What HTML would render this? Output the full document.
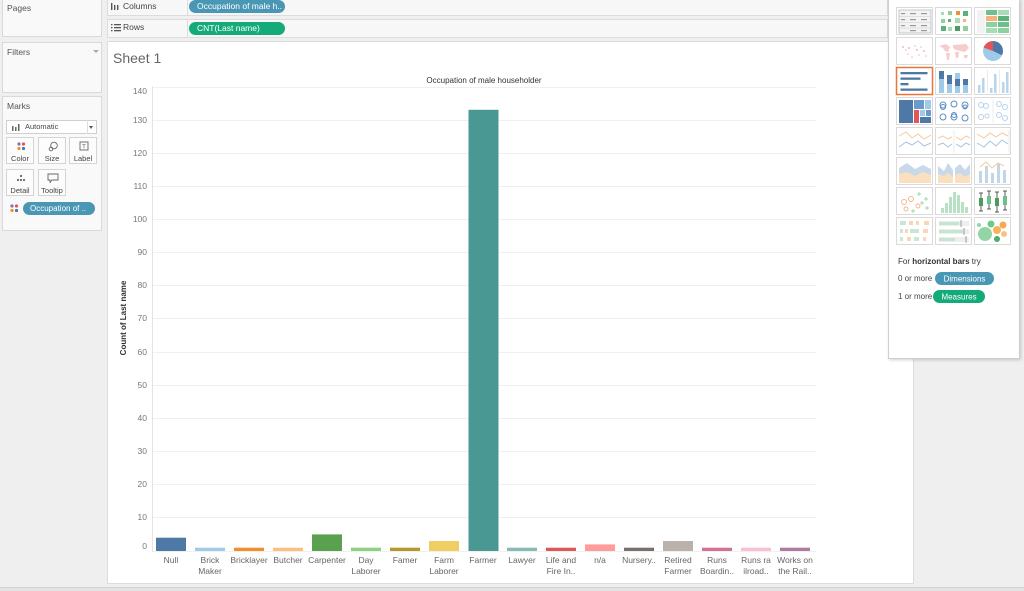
<!DOCTYPE html>
<html><head><meta charset="utf-8">
<style>
html,body{margin:0;padding:0;}
body{width:1024px;height:590px;overflow:hidden;background:#efefef;font-family:"Liberation Sans",sans-serif;position:relative;}
.box{position:absolute;background:#f9f9f9;border:1px solid #d9d9d9;box-sizing:border-box;}
.lbl{position:absolute;font-size:8.5px;color:#555;}
.shelf{position:absolute;left:107px;width:781px;background:#f7f7f7;border:1px solid #dcdcdc;border-top:none;box-sizing:border-box;}
.pill{position:absolute;border-radius:7px;color:#fff;font-size:8.5px;line-height:13px;padding-left:8px;box-sizing:border-box;white-space:nowrap;overflow:hidden;}
.btn{position:absolute;width:28px;height:27px;border:1px solid #d4d4d4;background:#fcfcfc;box-sizing:border-box;font-size:7.5px;color:#444;text-align:center;}
.btn span{position:absolute;left:0;right:0;top:16px;}
</style></head><body>

<!-- left panels -->
<div class="box" style="left:2px;top:-1px;width:100px;height:38px;"></div>
<div class="lbl" style="left:7px;top:3px;">Pages</div>
<div class="box" style="left:2px;top:42px;width:100px;height:51px;"></div>
<div class="lbl" style="left:7px;top:47px;">Filters</div>
<div style="position:absolute;left:93px;top:50px;width:0;height:0;border-left:3px solid transparent;border-right:3px solid transparent;border-top:3px solid #aaa;"></div>
<div class="box" style="left:2px;top:96px;width:100px;height:135px;"></div>
<div class="lbl" style="left:7px;top:101px;">Marks</div>
<div style="position:absolute;left:6px;top:120px;width:91px;height:14px;background:#fff;border:1px solid #cfcfcf;box-sizing:border-box;"></div>
<svg style="position:absolute;left:12px;top:123px" width="10" height="8"><rect x="0" y="3" width="1.5" height="5" fill="#666"/><rect x="3" y="4" width="1.5" height="4" fill="#666"/><rect x="6" y="1" width="1.5" height="7" fill="#666"/></svg>
<div class="lbl" style="left:25px;top:122px;font-size:7.5px;color:#444;">Automatic</div>
<div style="position:absolute;left:87px;top:120px;width:1px;height:14px;background:#ddd;"></div>
<div style="position:absolute;left:89px;top:126px;width:0;height:0;border-left:2.5px solid transparent;border-right:2.5px solid transparent;border-top:3px solid #555;"></div>

<div class="btn" style="left:6px;top:137px;"><svg style="position:absolute;left:10px;top:4px" width="9" height="9"><circle cx="2" cy="2" r="1.6" fill="#8e6fae"/><circle cx="6.5" cy="2" r="1.6" fill="#e15759"/><circle cx="2" cy="6.5" r="1.6" fill="#f28e2b"/><circle cx="6.5" cy="6.5" r="1.6" fill="#4e79a7"/></svg><span>Color</span></div>
<div class="btn" style="left:38px;top:137px;"><svg style="position:absolute;left:9px;top:3px" width="11" height="11"><circle cx="6" cy="4.5" r="3.3" fill="none" stroke="#666" stroke-width="0.9"/><circle cx="3" cy="8" r="1.8" fill="none" stroke="#666" stroke-width="0.9"/></svg><span>Size</span></div>
<div class="btn" style="left:69px;top:137px;"><svg style="position:absolute;left:9px;top:3px" width="10" height="10"><rect x="1" y="1" width="8" height="8" fill="none" stroke="#666" stroke-width="0.9"/><text x="5" y="7.5" font-size="6" text-anchor="middle" fill="#666" font-family="Liberation Sans">T</text></svg><span>Label</span></div>
<div class="btn" style="left:6px;top:169px;"><svg style="position:absolute;left:9px;top:4px" width="10" height="9"><circle cx="5" cy="2" r="1.1" fill="#666"/><circle cx="2" cy="6" r="1.1" fill="#666"/><circle cx="5" cy="6" r="1.1" fill="#666"/><circle cx="8" cy="6" r="1.1" fill="#666"/></svg><span>Detail</span></div>
<div class="btn" style="left:38px;top:169px;"><svg style="position:absolute;left:8px;top:3px" width="12" height="10"><path d="M1 1 H11 V7 H5 L3 9.5 V7 H1 Z" fill="none" stroke="#666" stroke-width="0.9"/></svg><span>Tooltip</span></div>
<svg style="position:absolute;left:10px;top:204px" width="9" height="9"><circle cx="2" cy="2" r="1.6" fill="#8e6fae"/><circle cx="6.5" cy="2" r="1.6" fill="#e15759"/><circle cx="2" cy="6.5" r="1.6" fill="#f28e2b"/><circle cx="6.5" cy="6.5" r="1.6" fill="#4e79a7"/></svg>
<div class="pill" style="left:23px;top:202px;width:72px;height:13px;background:#4a96b5;font-size:8px;padding-left:7px;">Occupation of ..</div>

<!-- shelves -->
<div class="shelf" style="top:0;height:16px;"></div>
<div class="shelf" style="top:19px;height:19px;border-top:1px solid #dcdcdc;"></div>
<div style="position:absolute;left:187px;top:0;width:1px;height:15px;background:#dcdcdc;"></div>
<div style="position:absolute;left:187px;top:20px;width:1px;height:17px;background:#dcdcdc;"></div>
<svg style="position:absolute;left:111px;top:3px" width="10" height="8"><rect x="0" y="0" width="1.4" height="7" fill="#555"/><rect x="3" y="2" width="1.4" height="5" fill="#555"/><rect x="6" y="2" width="1.4" height="5" fill="#555"/></svg>
<div class="lbl" style="left:123px;top:1px;color:#444;">Columns</div>
<svg style="position:absolute;left:111px;top:24px" width="10" height="8"><rect x="0" y="0" width="1.5" height="1.3" fill="#555"/><rect x="3" y="0" width="7" height="1.3" fill="#555"/><rect x="0" y="3" width="1.5" height="1.3" fill="#555"/><rect x="3" y="3" width="7" height="1.3" fill="#555"/><rect x="0" y="6" width="1.5" height="1.3" fill="#555"/><rect x="3" y="6" width="7" height="1.3" fill="#555"/></svg>
<div class="lbl" style="left:123px;top:22px;color:#444;">Rows</div>
<div class="pill" style="left:189px;top:0px;width:96px;height:13px;background:#4a96b5;">Occupation of male h..</div>
<div class="pill" style="left:189px;top:22px;width:96px;height:13px;background:#14aa79;">CNT(Last name)</div>

<!-- sheet -->
<div style="position:absolute;left:107px;top:41px;width:807px;height:543px;background:#fff;border:1px solid #dcdcdc;box-sizing:border-box;"></div>
<div style="position:absolute;left:113px;top:50px;font-size:14px;color:#666;">Sheet 1</div>
<div style="position:absolute;left:0;top:587px;width:1024px;height:3px;background:#e4e4e4;border-top:1px solid #d0d0d0;"></div>

<svg style="position:absolute;left:0;top:0" width="1024" height="590" font-family="Liberation Sans, sans-serif">
<text x="484" y="83" font-size="8px" text-anchor="middle" fill="#333">Occupation of male householder</text>
<text transform="translate(126,318) rotate(-90)" font-size="8px" text-anchor="middle" fill="#333" font-weight="bold">Count of Last name</text>
<g stroke="#f0f0f0" stroke-width="1">
<line x1="152" x2="816" y1="87.5" y2="87.5"/>
<line x1="152" x2="816" y1="120.5" y2="120.5"/>
<line x1="152" x2="816" y1="153.5" y2="153.5"/>
<line x1="152" x2="816" y1="186.5" y2="186.5"/>
<line x1="152" x2="816" y1="219.5" y2="219.5"/>
<line x1="152" x2="816" y1="252.5" y2="252.5"/>
<line x1="152" x2="816" y1="285.5" y2="285.5"/>
<line x1="152" x2="816" y1="318.5" y2="318.5"/>
<line x1="152" x2="816" y1="352.5" y2="352.5"/>
<line x1="152" x2="816" y1="385.5" y2="385.5"/>
<line x1="152" x2="816" y1="418.5" y2="418.5"/>
<line x1="152" x2="816" y1="451.5" y2="451.5"/>
<line x1="152" x2="816" y1="484.5" y2="484.5"/>
<line x1="152" x2="816" y1="517.5" y2="517.5"/>
<line x1="152" x2="816" y1="551.5" y2="551.5"/>
</g>
<line x1="152.5" x2="152.5" y1="86" y2="552" stroke="#e4e4e4"/>
<g font-size="8.5px" fill="#777" text-anchor="end">
<text x="147" y="94">140</text>
<text x="147" y="123">130</text>
<text x="147" y="156">120</text>
<text x="147" y="189">110</text>
<text x="147" y="222">100</text>
<text x="147" y="255">90</text>
<text x="147" y="288">80</text>
<text x="147" y="321">70</text>
<text x="147" y="355">60</text>
<text x="147" y="388">50</text>
<text x="147" y="421">40</text>
<text x="147" y="454">30</text>
<text x="147" y="487">20</text>
<text x="147" y="520">10</text>
<text x="147" y="549">0</text>
</g>
<g>
<rect x="156" y="537.7" width="30" height="13.3" fill="#4e79a7"/>
<rect x="195" y="547.7" width="30" height="3.3" fill="#a0cbe8"/>
<rect x="234" y="547.7" width="30" height="3.3" fill="#f28e2b"/>
<rect x="273" y="547.7" width="30" height="3.3" fill="#ffbe7d"/>
<rect x="312" y="534.4" width="30" height="16.6" fill="#59a14f"/>
<rect x="351" y="547.7" width="30" height="3.3" fill="#8cd17d"/>
<rect x="390" y="547.7" width="30" height="3.3" fill="#b6992d"/>
<rect x="429" y="541" width="30" height="10" fill="#f1ce63"/>
<rect x="468.5" y="109.8" width="30" height="441.2" fill="#499894"/>
<rect x="507" y="547.7" width="30" height="3.3" fill="#86bcb6"/>
<rect x="546" y="547.7" width="30" height="3.3" fill="#e15759"/>
<rect x="585" y="544.4" width="30" height="6.6" fill="#ff9d9a"/>
<rect x="624" y="547.7" width="30" height="3.3" fill="#79706e"/>
<rect x="663" y="541" width="30" height="10" fill="#bab0ac"/>
<rect x="702" y="547.7" width="30" height="3.3" fill="#d37295"/>
<rect x="741" y="547.7" width="30" height="3.3" fill="#fabfd2"/>
<rect x="780" y="547.7" width="30" height="3.3" fill="#b07aa1"/>
</g>
<g font-size="8.5px" fill="#666" text-anchor="middle">
<text x="171" y="563">Null</text>
<text x="210" y="563">Brick</text><text x="210" y="574">Maker</text>
<text x="249" y="563">Bricklayer</text>
<text x="288" y="563">Butcher</text>
<text x="327" y="563">Carpenter</text>
<text x="366" y="563">Day</text><text x="366" y="574">Laborer</text>
<text x="405" y="563">Famer</text>
<text x="444" y="563">Farm</text><text x="444" y="574">Laborer</text>
<text x="483" y="563">Farmer</text>
<text x="522" y="563">Lawyer</text>
<text x="561" y="563">Life and</text><text x="561" y="574">Fire In..</text>
<text x="600" y="563">n/a</text>
<text x="639" y="563">Nursery..</text>
<text x="678" y="563">Retired</text><text x="678" y="574">Farmer</text>
<text x="717" y="563">Runs</text><text x="717" y="574">Boardin..</text>
<text x="756" y="563">Runs ra</text><text x="756" y="574">ilroad..</text>
<text x="795" y="563">Works on</text><text x="795" y="574">the Rail..</text>
</g>
</svg>

<!-- Show Me panel -->
<div style="position:absolute;left:888px;top:-1px;width:132px;height:360px;background:#fff;border:1px solid #cfcfcf;box-sizing:border-box;box-shadow:1px 1px 3px rgba(0,0,0,0.18);"></div>
<svg style="position:absolute;left:0;top:0" width="1024" height="590" font-family="Liberation Sans, sans-serif">
<g fill="#fff" stroke="#dadada" stroke-width="1">
<rect x="896.5" y="7.5" width="36" height="27"/><rect x="935.5" y="7.5" width="36" height="27"/><rect x="974.5" y="7.5" width="36" height="27"/>
<rect x="896.5" y="37.5" width="36" height="27"/><rect x="935.5" y="37.5" width="36" height="27"/><rect x="974.5" y="37.5" width="36" height="27"/>
<rect x="935.5" y="67.5" width="36" height="27"/><rect x="974.5" y="67.5" width="36" height="27"/>
<rect x="896.5" y="97.5" width="36" height="27"/><rect x="935.5" y="97.5" width="36" height="27"/><rect x="974.5" y="97.5" width="36" height="27"/>
<rect x="896.5" y="127.5" width="36" height="27"/><rect x="935.5" y="127.5" width="36" height="27"/><rect x="974.5" y="127.5" width="36" height="27"/>
<rect x="896.5" y="157.5" width="36" height="27"/><rect x="935.5" y="157.5" width="36" height="27"/><rect x="974.5" y="157.5" width="36" height="27"/>
<rect x="896.5" y="187.5" width="36" height="27"/><rect x="935.5" y="187.5" width="36" height="27"/><rect x="974.5" y="187.5" width="36" height="27"/>
<rect x="896.5" y="217.5" width="36" height="27"/><rect x="935.5" y="217.5" width="36" height="27"/><rect x="974.5" y="217.5" width="36" height="27"/>
</g>
<rect x="896.5" y="67.5" width="36" height="27" fill="#fff" stroke="#e8763a" stroke-width="1.5"/>
<!-- text table -->
<g transform="translate(897,8)">
<rect x="2" y="2" width="32" height="23" fill="#f3f3f3" stroke="#bbb" stroke-width="0.8"/>
<g fill="#999"><rect x="4" y="5" width="4" height="1.2"/><rect x="13" y="5" width="6" height="1.2"/><rect x="24" y="5" width="6" height="1.2"/>
<rect x="4" y="11" width="4" height="1.2"/><rect x="13" y="11" width="6" height="1.2"/><rect x="24" y="11" width="6" height="1.2"/>
<rect x="4" y="17" width="4" height="1.2"/><rect x="13" y="17" width="6" height="1.2"/><rect x="24" y="17" width="6" height="1.2"/>
<rect x="13" y="22" width="6" height="1.2"/><rect x="24" y="22" width="6" height="1.2"/></g>
<line x1="2" x2="34" y1="8.5" y2="8.5" stroke="#ccc" stroke-width="0.5"/><line x1="2" x2="34" y1="14.5" y2="14.5" stroke="#ccc" stroke-width="0.5"/><line x1="2" x2="34" y1="20" y2="20" stroke="#ccc" stroke-width="0.5"/>
</g>
<!-- heat map -->
<g transform="translate(936,8)">
<rect x="5" y="4" width="3" height="3" fill="#a8dcb5"/><rect x="12" y="3" width="4" height="4" fill="#8fd0a0"/><rect x="20" y="3" width="4" height="4" fill="#f28e2b"/><rect x="27" y="3" width="5" height="5" fill="#5cb27a"/>
<rect x="5" y="11" width="4" height="4" fill="#8fd0a0"/><rect x="12" y="11" width="3" height="3" fill="#5cb27a"/><rect x="19" y="10" width="5" height="5" fill="#a8dcb5"/><rect x="27" y="11" width="3" height="3" fill="#f5b27a"/>
<rect x="5" y="18" width="5" height="5" fill="#5cb27a"/><rect x="12" y="19" width="4" height="4" fill="#a8dcb5"/><rect x="19" y="18" width="5" height="5" fill="#4f9a5e"/><rect x="27" y="18" width="5" height="5" fill="#8fd0a0"/>
</g>
<!-- highlight table -->
<g transform="translate(975,8)">
<rect x="2" y="2" width="8" height="23" fill="#f2f2f2"/>
<rect x="11" y="2" width="11" height="5" fill="#6fbf8a"/><rect x="23" y="2" width="11" height="5" fill="#a8dcb5"/>
<rect x="11" y="8" width="11" height="5" fill="#f5b27a"/><rect x="23" y="8" width="11" height="5" fill="#5cb27a"/>
<rect x="11" y="14" width="11" height="5" fill="#8fd0a0"/><rect x="23" y="14" width="11" height="5" fill="#6fbf8a"/>
<rect x="11" y="20" width="11" height="5" fill="#a8dcb5"/><rect x="23" y="20" width="11" height="5" fill="#8fd0a0"/>
</g>
<!-- symbol map -->
<g transform="translate(897,38)" fill="#f2b8b8">
<circle cx="6" cy="9" r="1"/><circle cx="9" cy="12" r="0.8"/><circle cx="12" cy="10" r="1"/><circle cx="11" cy="16" r="0.8"/><circle cx="18" cy="8" r="0.8"/><circle cx="20" cy="12" r="1"/><circle cx="24" cy="9" r="0.8"/><circle cx="27" cy="13" r="1"/><circle cx="22" cy="17" r="0.8"/><circle cx="29" cy="18" r="0.8"/><circle cx="15" cy="19" r="0.8"/>
</g>
<!-- filled map -->
<g transform="translate(936,38)" fill="#f6cccc">
<path d="M3 8 L10 6 L14 9 L12 14 L9 13 L7 10 Z"/><path d="M10 15 L14 15 L13 22 L11 22 Z"/><path d="M17 7 L30 6 L33 10 L29 14 L24 13 L20 12 L17 10 Z"/><path d="M19 14 L23 14 L22 20 L20 20 Z"/><path d="M28 17 L32 17 L31 20 L28 20 Z"/>
</g>
<!-- pie -->
<g transform="translate(993,51)">
<circle r="10" fill="#a0cbe8"/>
<path d="M0 0 L0 -10 A10 10 0 0 1 9 4.3 Z" fill="#4e79a7"/>
<path d="M0 0 L-9.4 -3.4 A10 10 0 0 1 0 -10 Z" fill="#e15759"/>
</g>
<!-- horizontal bars -->
<g transform="translate(897,68)" fill="#4e79a7">
<rect x="3.5" y="4" width="27" height="2.3"/><rect x="3.5" y="9.5" width="20" height="2.3"/><rect x="3.5" y="15" width="8" height="2.3"/><rect x="3.5" y="20.5" width="27" height="2.3"/>
</g>
<!-- stacked bars -->
<g transform="translate(936,68)">
<rect x="3" y="3" width="5" height="22" fill="#a0cbe8"/><rect x="3" y="3" width="5" height="8" fill="#4e79a7"/>
<rect x="11" y="7" width="5" height="18" fill="#a0cbe8"/><rect x="11" y="7" width="5" height="9" fill="#4e79a7"/>
<rect x="19" y="5" width="5" height="20" fill="#a0cbe8"/><rect x="19" y="11" width="5" height="7" fill="#4e79a7"/>
<rect x="27" y="11" width="5" height="14" fill="#a0cbe8"/><rect x="27" y="11" width="5" height="6" fill="#4e79a7"/>
</g>
<!-- side-by-side bars -->
<g transform="translate(975,68)">
<line x1="12.5" x2="12.5" y1="2" y2="25" stroke="#ddd" stroke-width="0.6"/><line x1="24.5" x2="24.5" y1="2" y2="25" stroke="#ddd" stroke-width="0.6"/>
<g fill="#b9d5ec"><rect x="3" y="17" width="2.5" height="8"/><rect x="7" y="10" width="2.5" height="15"/><rect x="15" y="20" width="2.5" height="5"/><rect x="19" y="6" width="2.5" height="19"/><rect x="27" y="14" width="2.5" height="11"/><rect x="31" y="4" width="2.5" height="21"/></g>
</g>
<!-- treemap -->
<g transform="translate(897,98)">
<rect x="2" y="2" width="14" height="23" fill="#4e79a7"/><rect x="17" y="2" width="10" height="9" fill="#6b9bc9"/><rect x="28" y="2" width="6" height="9" fill="#a0cbe8"/>
<rect x="17" y="12" width="5" height="13" fill="#e15759"/><rect x="23" y="12" width="5" height="6" fill="#a0cbe8"/><rect x="29" y="12" width="5" height="6" fill="#6b9bc9"/><rect x="23" y="19" width="11" height="6" fill="#4e79a7"/>
</g>
<!-- circle views -->
<g transform="translate(936,98)" fill="none" stroke="#5b8fc0" stroke-width="1">
<circle cx="7" cy="7" r="3"/><circle cx="7" cy="9" r="2.5"/><circle cx="18" cy="6" r="3"/><circle cx="29" cy="7" r="3"/><circle cx="29" cy="9" r="2"/>
<circle cx="7" cy="19" r="3"/><circle cx="18" cy="17" r="2.5"/><circle cx="18" cy="19" r="3"/><circle cx="29" cy="20" r="3"/>
</g>
<g transform="translate(975,98)" fill="none" stroke="#b8d1e8" stroke-width="1">
<circle cx="6" cy="7" r="2.5"/><circle cx="11" cy="8" r="2.5"/><circle cx="6" cy="19" r="2.5"/><circle cx="12" cy="18" r="2"/>
<circle cx="24" cy="6" r="2.5"/><circle cx="30" cy="9" r="2.5"/><circle cx="24" cy="17" r="2.5"/><circle cx="30" cy="20" r="2.5"/>
<line x1="18" x2="18" y1="2" y2="25" stroke="#e2e2e2" stroke-width="0.6"/>
</g>
<!-- lines -->
<g transform="translate(897,128)" fill="none" stroke-width="1">
<polyline points="2,8 9,4 15,10 21,6 27,11 34,7" stroke="#f7c99b"/>
<polyline points="2,19 9,14 15,17 21,13 27,18 34,15" stroke="#a8c4de"/>
</g>
<g transform="translate(936,128)" fill="none" stroke-width="1">
<polyline points="2,10 7,8 12,11 16,9" stroke="#f7c99b"/><polyline points="20,9 25,12 30,8 34,10" stroke="#f7c99b"/>
<polyline points="2,17 7,15 12,19 16,16" stroke="#a8c4de"/><polyline points="20,16 25,19 30,15 34,17" stroke="#a8c4de"/>
<line x1="18" x2="18" y1="2" y2="25" stroke="#e2e2e2" stroke-width="0.6"/>
</g>
<g transform="translate(975,128)" fill="none" stroke-width="1">
<polyline points="2,6 9,10 15,5 21,9 27,5 33,8" stroke="#f7c99b"/>
<polyline points="2,15 9,19 15,13 21,18 27,12 33,16" stroke="#a8c4de"/>
<line x1="34" x2="34" y1="2" y2="25" stroke="#ddd" stroke-width="0.6"/>
</g>
<!-- areas -->
<g transform="translate(897,158)">
<polygon points="2,10 10,5 18,11 26,7 34,11 34,25 2,25" fill="#c9d9ea"/>
<polygon points="2,16 10,14 18,18 26,14 34,17 34,25 2,25" fill="#fbe0c0"/>
</g>
<g transform="translate(936,158)">
<polygon points="2,8 8,13 12,5 17,12 17,25 2,25" fill="#c9d9ea"/><polygon points="19,10 24,6 29,12 34,6 34,25 19,25" fill="#c9d9ea"/>
<polygon points="2,16 8,18 12,15 17,19 17,25 2,25" fill="#fbe0c0"/><polygon points="19,17 24,15 29,19 34,16 34,25 19,25" fill="#fbe0c0"/>
</g>
<g transform="translate(975,158)">
<g fill="#c2d6ea"><rect x="4" y="13" width="3" height="12"/><rect x="10" y="8" width="3" height="17"/><rect x="16" y="15" width="3" height="10"/><rect x="22" y="6" width="3" height="19"/><rect x="28" y="12" width="3" height="13"/></g>
<polyline points="5,9 11,4 17,10 23,5 29,8" fill="none" stroke="#f7c99b" stroke-width="1"/>
</g>
<!-- scatter -->
<g transform="translate(897,188)" stroke-width="0.9">
<g fill="none" stroke="#f5b48a"><circle cx="7" cy="14" r="2.5"/><circle cx="14" cy="11" r="2.5"/><circle cx="9" cy="21" r="2"/><circle cx="21" cy="18" r="2"/></g>
<g stroke="#9ed6b2"><path d="M22 4 v4 M20 6 h4"/><path d="M29 9 v4 M27 11 h4"/><path d="M25 13 v4 M23 15 h4"/><path d="M16 21 v4 M14 23 h4"/><path d="M30 18 v4 M28 20 h4"/></g>
</g>
<!-- histogram -->
<g transform="translate(936,188)" fill="#b8e0c4">
<rect x="5" y="20" width="3" height="5"/><rect x="9" y="15" width="3" height="10"/><rect x="13" y="9" width="3" height="16"/><rect x="17" y="4" width="3" height="21"/><rect x="21" y="7" width="3" height="18"/><rect x="25" y="14" width="3" height="11"/><rect x="29" y="19" width="3" height="6"/>
</g>
<!-- box whisker -->
<g transform="translate(975,188)">
<g stroke="#333" stroke-width="0.8"><line x1="6" x2="6" y1="5" y2="23"/><line x1="14" x2="14" y1="3" y2="21"/><line x1="22" x2="22" y1="4" y2="24"/><line x1="30" x2="30" y1="3" y2="22"/>
<line x1="4" x2="8" y1="5" y2="5"/><line x1="4" x2="8" y1="23" y2="23"/><line x1="12" x2="16" y1="3" y2="3"/><line x1="12" x2="16" y1="21" y2="21"/><line x1="20" x2="24" y1="4" y2="4"/><line x1="20" x2="24" y1="24" y2="24"/><line x1="28" x2="32" y1="3" y2="3"/><line x1="28" x2="32" y1="22" y2="22"/></g>
<rect x="4" y="10" width="4" height="8" fill="#4f9a5e"/><rect x="12" y="8" width="4" height="8" fill="#6fbf8a"/><rect x="20" y="10" width="4" height="8" fill="#4f9a5e"/><rect x="28" y="8" width="4" height="9" fill="#6fbf8a"/>
</g>
<!-- gantt -->
<g transform="translate(897,218)">
<rect x="3" y="3" width="6" height="4" fill="#c8e8d2"/><rect x="12" y="3" width="4" height="4" fill="#fbd6b5"/><rect x="19" y="3" width="3" height="4" fill="#fbd6b5"/><rect x="27" y="3" width="5" height="4" fill="#fbd6b5"/>
<rect x="3" y="11" width="3" height="4" fill="#c8e8d2"/><rect x="8" y="11" width="3" height="4" fill="#fbd6b5"/><rect x="13" y="11" width="9" height="4" fill="#c8e8d2"/><rect x="26" y="11" width="5" height="4" fill="#fbd6b5"/>
<rect x="3" y="19" width="3" height="4" fill="#c8e8d2"/><rect x="10" y="19" width="4" height="4" fill="#fbd6b5"/><rect x="17" y="19" width="5" height="4" fill="#c8e8d2"/><rect x="26" y="19" width="3" height="4" fill="#fbd6b5"/>
</g>
<!-- bullet -->
<g transform="translate(936,218)">
<rect x="3" y="3" width="30" height="5" fill="#eeeeee"/><rect x="3" y="4" width="20" height="3" fill="#c6e5cf"/><line x1="25" x2="25" y1="2" y2="9" stroke="#888" stroke-width="0.8"/>
<rect x="3" y="11" width="30" height="5" fill="#eeeeee"/><rect x="3" y="12" width="24" height="3" fill="#c6e5cf"/><line x1="28" x2="28" y1="10" y2="17" stroke="#888" stroke-width="0.8"/>
<rect x="3" y="19" width="30" height="5" fill="#eeeeee"/><rect x="3" y="20" width="16" height="3" fill="#c6e5cf"/><line x1="30" x2="30" y1="18" y2="25" stroke="#888" stroke-width="0.8"/>
</g>
<!-- packed bubbles -->
<g transform="translate(975,218)">
<circle cx="10" cy="16" r="7" fill="#93d5a5"/><circle cx="16" cy="6" r="3.5" fill="#6ccb8a"/><circle cx="22" cy="12" r="4" fill="#f7b35c"/><circle cx="28" cy="7" r="3.5" fill="#f7a857"/><circle cx="22" cy="21" r="3" fill="#4cae6a"/><circle cx="29" cy="16" r="3" fill="#fbc27f"/><circle cx="4" cy="7" r="2" fill="#93d5a5"/>
</g>
<text x="898" y="264" font-size="8px" fill="#333">For <tspan font-weight="bold">horizontal bars</tspan> try</text>
<text x="898" y="281" font-size="8px" fill="#444">0 or more</text>
<rect x="935" y="272" width="59" height="13" rx="6.5" fill="#4a96b5"/>
<text x="964.5" y="281.5" font-size="8px" fill="#fff" text-anchor="middle">Dimensions</text>
<text x="898" y="299" font-size="8px" fill="#444">1 or more</text>
<rect x="933" y="290" width="52" height="13" rx="6.5" fill="#14aa79"/>
<text x="959" y="299.5" font-size="8px" fill="#fff" text-anchor="middle">Measures</text>
</svg>
</body></html>
